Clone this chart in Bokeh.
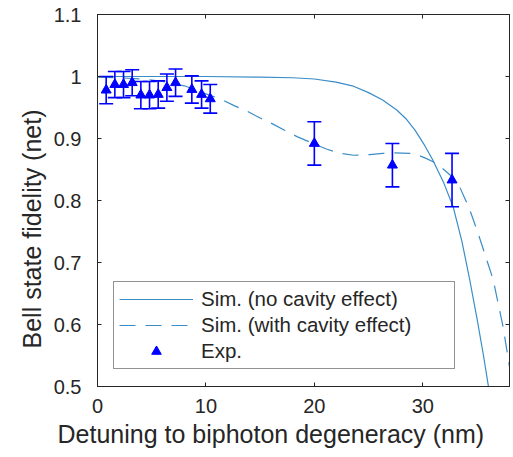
import numpy as np
from bokeh.plotting import figure
from bokeh.models import (LinearAxis, FixedTicker, CustomJSTickFormatter, Legend,
                          LegendItem, ColumnDataSource, Range1d, Title)
from bokeh.embed import file_html
from bokeh.resources import INLINE

# ---------------- data ----------------
x_ticks = [0, 10, 20, 30]
y_ticks = [0.5, 0.6, 0.7, 0.8, 0.9, 1.0, 1.1]

# Simulation without cavity effect (solid)
x_nocav = [0, 5, 10, 15, 18, 20, 22, 23.5, 25, 26.3, 27.6, 28.5, 29.3, 30.1,
           30.9, 31.9, 32.8, 33.6, 34.3, 35.0, 35.6, 36.15, 36.6]
y_nocav = [1.0, 1.0, 1.0, 0.999, 0.998, 0.996, 0.991, 0.985, 0.974, 0.962,
           0.946, 0.931, 0.913, 0.891, 0.866, 0.83, 0.79, 0.735, 0.675, 0.61,
           0.55, 0.49, 0.44]

# Simulation with cavity effect (dashed)
x_cav = [0, 2, 4, 6, 8, 9, 10, 11.3, 12.6, 13.8, 15, 16.1, 17.3, 18.4, 19.9,
         21.1, 22.4, 23.6, 25.1, 26.3, 27.3, 28.8, 29.6, 30.3, 31.0, 31.6,
         32.6, 33.4, 34.3, 35.2, 36.5, 37.4, 38.0]
y_cav = [0.999, 0.998, 0.996, 0.992, 0.985, 0.979, 0.972, 0.964, 0.953, 0.944,
         0.933, 0.924, 0.913, 0.903, 0.892, 0.883, 0.876, 0.873, 0.874, 0.876,
         0.877, 0.876, 0.873, 0.868, 0.862, 0.855, 0.84, 0.822, 0.787, 0.742,
         0.672, 0.597, 0.532]

# Experimental points with error bars
x_exp = [0.8, 1.6, 2.4, 3.2, 4.0, 4.8, 5.6, 6.4, 7.2, 8.7, 9.6, 10.4, 20.0, 27.2, 32.7]
y_exp = [0.978, 0.987, 0.987, 0.990, 0.970, 0.970, 0.971, 0.982, 0.990, 0.979,
         0.971, 0.964, 0.892, 0.857, 0.833]
err_exp = [0.022, 0.021, 0.021, 0.021, 0.022, 0.022, 0.022, 0.022, 0.022, 0.022,
           0.022, 0.023, 0.035, 0.035, 0.043]

labels = ["Sim. (no cavity effect)", "Sim. (with cavity effect)", "Exp."]
x_label = "Detuning to biphoton degeneracy (nm)"
y_label = "Bell state fidelity (net)"

# ---------------- styling ----------------
LINE_C = "#3a8dc8"
EXP_C = "#0000ff"
AX_C = "#262626"
FONT = "Liberation Sans"

p = figure(width=513, height=457, output_backend="svg", toolbar_location=None,
           x_range=Range1d(0, 38), y_range=Range1d(0.5, 1.1),
           min_border_left=97, min_border_right=4, min_border_top=14,
           min_border_bottom=71)
p.xgrid.visible = False
p.ygrid.visible = False
p.outline_line_color = AX_C
p.outline_line_width = 1
p.background_fill_color = "white"
p.border_fill_color = "white"

yfmt = CustomJSTickFormatter(code="return (Math.round(tick*10)/10).toString();")

for ax in (p.xaxis[0], p.yaxis[0]):
    ax.axis_line_color = AX_C
    ax.major_tick_line_color = AX_C
    ax.major_tick_in = 4
    ax.major_tick_out = 0
    ax.minor_tick_in = 0
    ax.minor_tick_out = 0
    ax.major_label_text_font = FONT
    ax.major_label_text_font_size = "20px"
    ax.major_label_text_color = AX_C

p.xaxis[0].ticker = FixedTicker(ticks=x_ticks)
p.yaxis[0].ticker = FixedTicker(ticks=y_ticks)
p.yaxis[0].formatter = yfmt
p.xaxis[0].major_label_standoff = 12
p.yaxis[0].major_label_standoff = 16

# axis titles (placed as in the reference)
p.add_layout(Title(text=x_label, align="left", offset=-40, standoff=5,
                   text_font=FONT, text_font_size="25px", text_font_style="normal",
                   text_color=AX_C), "below")
p.add_layout(Title(text=y_label, align="left", offset=38, standoff=10,
                   text_font=FONT, text_font_size="25px", text_font_style="normal",
                   text_color=AX_C), "left")

blank = CustomJSTickFormatter(code="return '';")
for side, ticks in (("above", x_ticks), ("right", y_ticks)):
    ax = LinearAxis(ticker=FixedTicker(ticks=ticks), formatter=blank,
                    axis_line_color=AX_C,
                    major_tick_line_color=AX_C, major_tick_in=4, major_tick_out=0,
                    minor_tick_in=0, minor_tick_out=0, major_label_standoff=0)
    p.add_layout(ax, side)

# ---------------- glyphs ----------------
l1 = p.line(x_nocav, y_nocav, line_color=LINE_C, line_width=1.2)
l2 = p.line(x_cav, y_cav, line_color=LINE_C, line_width=1.2, line_dash="16 10")

lo = [y - e for y, e in zip(y_exp, err_exp)]
hi = [y + e for y, e in zip(y_exp, err_exp)]
src = ColumnDataSource(dict(x=x_exp, y=y_exp, lo=lo, hi=hi))
p.segment(x0="x", y0="lo", x1="x", y1="hi", source=src, line_color=EXP_C, line_width=1.6)
p.scatter("x", "hi", source=src, marker="dash", size=14, line_color=EXP_C, line_width=1.6)
p.scatter("x", "lo", source=src, marker="dash", size=14, line_color=EXP_C, line_width=1.6)
tri = p.scatter("x", "y", source=src, marker="triangle", size=10,
                fill_color=EXP_C, line_color=EXP_C, line_width=1)
leg_bar = p.scatter(x=[], y=[], marker="dash", angle=np.pi / 2,
                    line_color=EXP_C, line_width=1.6)

legend = Legend(items=[LegendItem(label=labels[0], renderers=[l1]),
                       LegendItem(label=labels[1], renderers=[l2]),
                       LegendItem(label=labels[2], renderers=[leg_bar, tri])],
                location=(16, 17), margin=0, padding=5, spacing=2,
                glyph_width=74, glyph_height=24, label_height=24, label_width=248,
                label_standoff=8, label_text_font=FONT, label_text_font_size="20.5px",
                label_text_color=AX_C, border_line_color=AX_C, border_line_width=1,
                background_fill_color="white", background_fill_alpha=1.0)
p.add_layout(legend)

open("out.html", "w").write(file_html(p, INLINE))
